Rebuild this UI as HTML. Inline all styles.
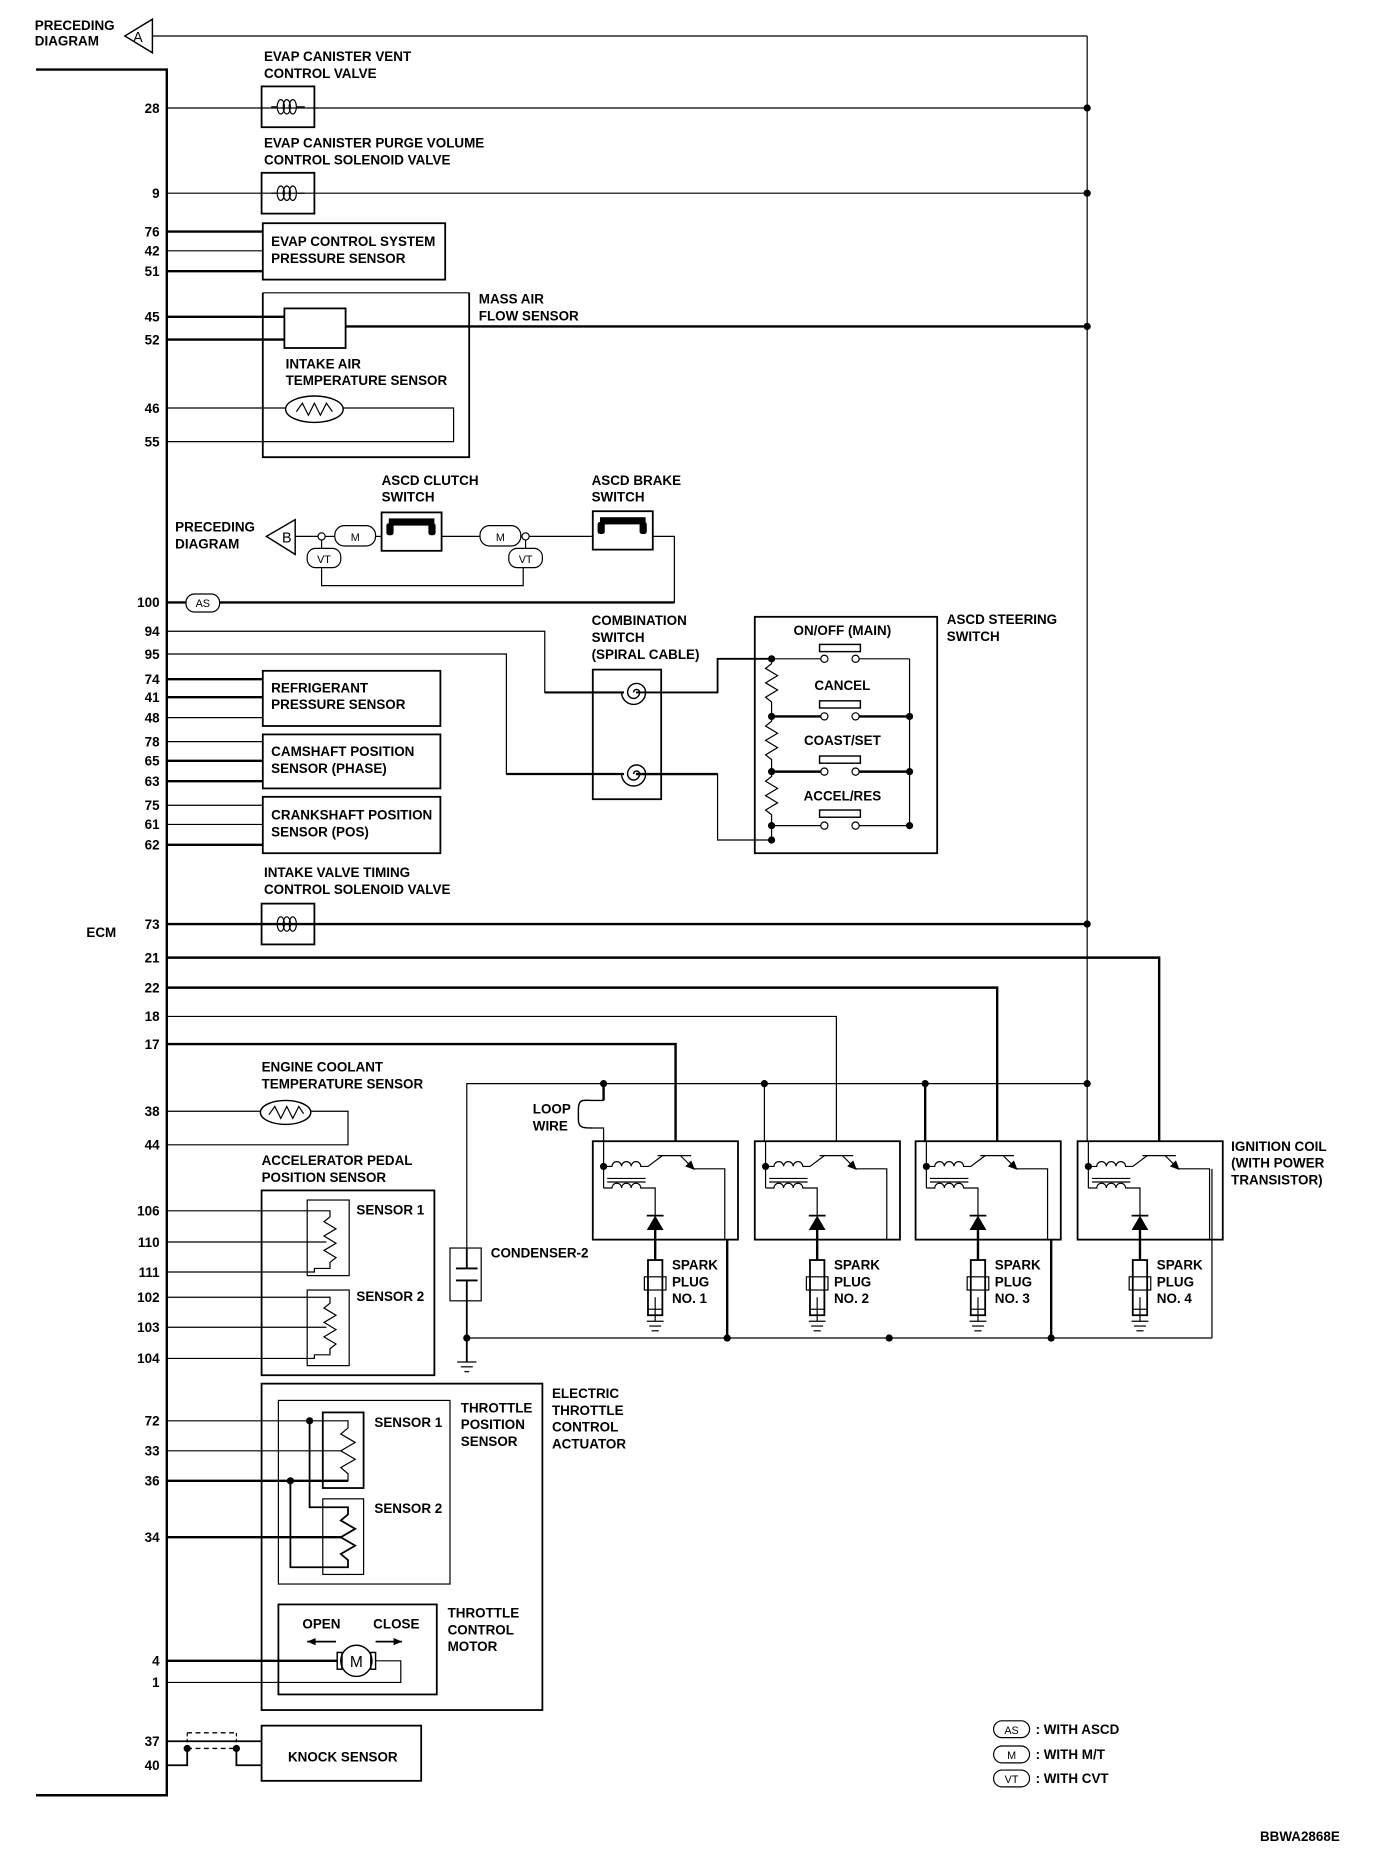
<!DOCTYPE html>
<html><head><meta charset="utf-8"><style>
html,body{margin:0;padding:0;background:#fff}
svg{display:block}
text{font-family:"Liberation Sans",sans-serif;font-size:11.2px;font-weight:bold;fill:#000}
.r{text-anchor:end}
.m{text-anchor:middle}
</style></head><body>
<svg width="1376" height="1876" viewBox="0 0 1146.7 1563.3" preserveAspectRatio="none" xmlns="http://www.w3.org/2000/svg">
<defs>
<g id="sol" fill="none" stroke="#000">
  <rect x="0" y="0" width="44" height="34" stroke-width="1.5"/>
  <path d="M8 17 H13" stroke-width="1"/>
  <ellipse cx="16" cy="17" rx="3" ry="6" stroke-width="1"/>
  <ellipse cx="21" cy="17" rx="3" ry="6" stroke-width="1"/>
  <ellipse cx="26" cy="17" rx="3" ry="6" stroke-width="1"/>
  <path d="M29 17 H36" stroke-width="1"/>
</g>
<g id="spiral" fill="none" stroke="#000" stroke-width="1.2">
  <path d="M0 0 a2.5 2.5 0 0 1 5 0 a5 5 0 0 1 -10 0 a7.5 7.5 0 0 1 15 0 a10 10 0 0 1 -20 0"/>
</g>
<g id="ign" fill="none" stroke="#000">
  <rect x="0" y="0" width="121" height="82" stroke-width="1.5"/>
  <line x1="9" y1="0" x2="9" y2="39" stroke-width="1"/>
  <circle cx="9" cy="21" r="2.5" fill="#000"/>
  <path d="M9 21 H16 a4 4 0 0 1 8 0 a4 4 0 0 1 8 0 a4 4 0 0 1 8 0 H46 L58 12" stroke-width="1"/>
  <line x1="54" y1="12" x2="82" y2="12" stroke-width="1"/>
  <path d="M73 12 L84 23 H110 V82" stroke-width="1"/>
  <line x1="12" y1="31" x2="44" y2="31" stroke-width="1"/>
  <line x1="12" y1="34" x2="44" y2="34" stroke-width="1"/>
  <path d="M9 39 H16 a4 4 0 0 1 8 0 a4 4 0 0 1 8 0 a4 4 0 0 1 8 0 H52 V62" stroke-width="1"/>
  <line x1="45" y1="62" x2="59" y2="62" stroke-width="1.5"/>
  <line x1="52" y1="74" x2="52" y2="99" stroke-width="2"/>
  <rect x="46" y="99" width="12" height="46" stroke-width="1.5"/>
  <rect x="43" y="113" width="18" height="11" stroke-width="1"/>
  <line x1="52" y1="130" x2="52" y2="150" stroke-width="1"/>
  <line x1="46" y1="140" x2="58" y2="140" stroke-width="1"/>
  <line x1="45" y1="150" x2="59" y2="150" stroke-width="1"/>
  <line x1="47" y1="154" x2="57" y2="154" stroke-width="1"/>
  <line x1="49" y1="158" x2="55" y2="158" stroke-width="1"/>
</g>
<g id="ignf" fill="#000">
  <path d="M85 24 L77 21 L82 16 Z"/>
  <path d="M52 62 L45 74 H59 Z"/>
</g>
<g id="gnd" stroke="#000" stroke-width="1">
  <line x1="-8" y1="0" x2="8" y2="0"/><line x1="-5" y1="4" x2="5" y2="4"/><line x1="-2" y1="8" x2="2" y2="8"/>
</g>
</defs>

<g fill="none" stroke="#000" stroke-width="1">
<polygon points="104,30 127,16 127,44" stroke-width="1.2"/>
<line x1="127" y1="30" x2="906" y2="30"/>
<line x1="906" y1="30" x2="906" y2="951"/>
<polyline points="30,58 139,58 139,1496 30,1496" stroke-width="2"/>

<line x1="139" y1="90" x2="906" y2="90"/>
<line x1="139" y1="161" x2="906" y2="161"/>
<rect x="219" y="186" width="152" height="47" stroke-width="1.5"/>
<line x1="139" y1="193" x2="219" y2="193" stroke-width="2"/>
<line x1="139" y1="209" x2="219" y2="209"/>
<line x1="139" y1="226" x2="219" y2="226" stroke-width="2"/>
<path d="M219 244 H391" />
<path d="M391 244 V381 H219 V244" stroke-width="1.5"/>
<rect x="237" y="257" width="51" height="33" stroke-width="1.5"/>
<line x1="139" y1="264" x2="237" y2="264" stroke-width="2"/>
<line x1="139" y1="283" x2="237" y2="283" stroke-width="2"/>
<line x1="288" y1="272" x2="906" y2="272" stroke-width="2"/>
<ellipse cx="262" cy="341" rx="24" ry="11" stroke-width="1.2"/>
<path d="M247 343 L252 336 L257 346 L262 336 L267 346 L272 336 L277 343" />
<line x1="139" y1="340" x2="238" y2="340"/>
<path d="M286 340 H378 V368 H139"/>

<polygon points="222,447 246,433 246,462" stroke-width="1.2"/>
<line x1="246" y1="447" x2="265" y2="447"/>
<circle cx="268" cy="447" r="3"/>
<line x1="271" y1="447" x2="279" y2="447"/>
<rect x="279" y="438" width="34" height="17" rx="8"/>
<line x1="313" y1="447" x2="318" y2="447"/>
<rect x="318" y="427" width="50" height="32" stroke-width="1.5"/>
<line x1="368" y1="447" x2="400" y2="447"/>
<rect x="400" y="438" width="34" height="17" rx="8"/>
<line x1="434" y1="447" x2="435" y2="447"/>
<circle cx="438" cy="447" r="3"/>
<line x1="441" y1="447" x2="494" y2="447"/>
<rect x="494" y="426" width="50" height="32" stroke-width="1.5"/>
<path d="M544 447 H562 V502 H183"/>
<line x1="562" y1="502" x2="183" y2="502" stroke-width="2"/>
<line x1="139" y1="502" x2="155" y2="502" stroke-width="2"/>
<rect x="155" y="495" width="28" height="15" rx="7"/>
<line x1="268" y1="450" x2="268" y2="457"/>
<rect x="256" y="457" width="28" height="16" rx="7"/>
<line x1="438" y1="450" x2="438" y2="457"/>
<rect x="424" y="457" width="28" height="16" rx="7"/>
<path d="M268 473 V488 H436 V473"/>

<path d="M139 526 H454 V577 H520"/>
<path d="M139 545 H422 V645 H520"/>
<line x1="454" y1="577" x2="520" y2="577" stroke-width="1.8"/>
<line x1="422" y1="645" x2="520" y2="645" stroke-width="1.8"/>
<rect x="494" y="558" width="57" height="108" stroke-width="1.5"/>
<path d="M530 577 H598 V549 H643" stroke-width="1.5"/>
<path d="M530 645 H598 V700 H643" stroke-width="1"/>
<line x1="530" y1="645" x2="598" y2="645" stroke-width="2"/>
<rect x="629" y="514" width="152" height="197" stroke-width="1.5"/>
<line x1="643" y1="549" x2="643" y2="553"/>
<path d="M643 553 l-5 4 l10 6 l-10 6 l10 6 l-10 6 l5 4 V597"/>
<path d="M643 597 V601 l-5 4 l10 6 l-10 6 l10 6 l-10 6 l5 4 V643"/>
<path d="M643 643 V647 l-5 4 l10 6 l-10 6 l10 6 l-10 6 l5 4 V700"/>
<line x1="758" y1="549" x2="758" y2="688"/>
<line x1="643" y1="549" x2="684" y2="549"/><line x1="716" y1="549" x2="758" y2="549"/>
<line x1="643" y1="597" x2="684" y2="597" stroke-width="2"/><line x1="716" y1="597" x2="758" y2="597" stroke-width="2"/>
<line x1="643" y1="643" x2="684" y2="643" stroke-width="2"/><line x1="716" y1="643" x2="758" y2="643" stroke-width="2"/>
<line x1="643" y1="688" x2="684" y2="688"/><line x1="716" y1="688" x2="758" y2="688"/>
<circle cx="687" cy="549" r="3"/><circle cx="713" cy="549" r="3"/>
<circle cx="687" cy="597" r="3"/><circle cx="713" cy="597" r="3"/>
<circle cx="687" cy="643" r="3"/><circle cx="713" cy="643" r="3"/>
<circle cx="687" cy="688" r="3"/><circle cx="713" cy="688" r="3"/>
<rect x="683" y="537" width="34" height="6" stroke-width="1.2"/>
<rect x="683" y="584" width="34" height="6" stroke-width="1.2"/>
<rect x="683" y="630" width="34" height="6" stroke-width="1.2"/>
<rect x="683" y="675" width="34" height="6" stroke-width="1.2"/>

<rect x="219" y="559" width="148" height="46" stroke-width="1.5"/>
<line x1="139" y1="566" x2="219" y2="566" stroke-width="2"/>
<line x1="139" y1="581" x2="219" y2="581" stroke-width="2"/>
<line x1="139" y1="598" x2="219" y2="598"/>
<rect x="219" y="612" width="148" height="45" stroke-width="1.5"/>
<line x1="139" y1="618" x2="219" y2="618"/>
<line x1="139" y1="634" x2="219" y2="634" stroke-width="2"/>
<line x1="139" y1="651" x2="219" y2="651" stroke-width="2"/>
<rect x="219" y="664" width="148" height="47" stroke-width="1.5"/>
<line x1="139" y1="671" x2="219" y2="671"/>
<line x1="139" y1="687" x2="219" y2="687"/>
<line x1="139" y1="704" x2="219" y2="704" stroke-width="2"/>

<line x1="139" y1="770" x2="906" y2="770" stroke-width="2"/>
<path d="M139 798 H966 V951" stroke-width="2"/>
<path d="M139 823 H831 V951" stroke-width="2"/>
<path d="M139 847 H697 V951" stroke-width="1"/>
<path d="M139 870 H563 V951" stroke-width="2"/>
<path d="M389 1040 V903 H906"/>
<line x1="503" y1="903" x2="503" y2="917" stroke-width="2"/>
<path d="M503 917 H494 C486 917 482 915 482 925 V933 C482 940 486 940 494 940" stroke-width="1.2"/>
<path d="M494 940 H503 V951"/>
<line x1="637" y1="903" x2="637" y2="951"/>
<line x1="771" y1="903" x2="771" y2="951" stroke-width="2"/>
<rect x="375" y="1040" width="26" height="44" stroke-width="1"/>
<line x1="389" y1="1040" x2="389" y2="1057" stroke-width="1.5"/>
<line x1="380" y1="1057" x2="398" y2="1057" stroke-width="1.5"/>
<line x1="380" y1="1067" x2="398" y2="1067" stroke-width="1.5"/>
<line x1="389" y1="1067" x2="389" y2="1135" stroke-width="1.5"/>
<line x1="389" y1="1115" x2="1010" y2="1115"/>
<line x1="1010" y1="1115" x2="1010" y2="974"/>
<line x1="606" y1="1033" x2="606" y2="1115" stroke-width="2"/>
<line x1="876" y1="1033" x2="876" y2="1115" stroke-width="2"/>
</g>
<use href="#gnd" x="389" y="1135"/>
<use href="#spiral" x="528" y="577"/>
<use href="#spiral" x="528" y="645"/>

<use href="#sol" x="218" y="72"/>
<use href="#sol" x="218" y="144"/>
<use href="#sol" x="218" y="753"/>
<use href="#ign" x="494" y="951"/><use href="#ignf" x="494" y="951"/>
<use href="#ign" x="629" y="951"/><use href="#ignf" x="629" y="951"/>
<use href="#ign" x="763" y="951"/><use href="#ignf" x="763" y="951"/>
<use href="#ign" x="898" y="951"/><use href="#ignf" x="898" y="951"/>

<g fill="#000">
<rect x="324" y="432" width="38" height="6"/><rect x="322" y="436" width="6" height="10" rx="2"/><rect x="357" y="436" width="6" height="10" rx="2"/>
<rect x="500" y="431" width="38" height="6"/><rect x="498" y="435" width="6" height="10" rx="2"/><rect x="533" y="435" width="6" height="10" rx="2"/>
<circle cx="906" cy="90" r="3"/><circle cx="906" cy="161" r="3"/><circle cx="906" cy="272" r="3"/><circle cx="906" cy="770" r="3"/><circle cx="906" cy="903" r="3"/>
<circle cx="503" cy="903" r="3"/><circle cx="637" cy="903" r="3"/><circle cx="771" cy="903" r="3"/>
<circle cx="389" cy="1115" r="3"/><circle cx="606" cy="1115" r="3"/><circle cx="741" cy="1115" r="3"/><circle cx="876" cy="1115" r="3"/>
<circle cx="643" cy="549" r="3"/><circle cx="643" cy="597" r="3"/><circle cx="643" cy="643" r="3"/><circle cx="643" cy="688" r="3"/><circle cx="643" cy="700" r="3"/>
<circle cx="758" cy="597" r="3"/><circle cx="758" cy="643" r="3"/><circle cx="758" cy="688" r="3"/>
<circle cx="258" cy="1184" r="3"/><circle cx="242" cy="1234" r="3"/>
<circle cx="156" cy="1457" r="3"/><circle cx="197" cy="1457" r="3"/>
</g>

<g fill="none" stroke="#000" stroke-width="1">
<ellipse cx="238" cy="927" rx="21" ry="10" stroke-width="1.2"/>
<path d="M224 929 L229 922 L234 932 L239 922 L244 932 L249 922 L253 928"/>
<line x1="139" y1="926" x2="217" y2="926"/>
<path d="M259 926 H290 V954 H139"/>
<rect x="218" y="992" width="144" height="154" stroke-width="1.5"/>
<rect x="256" y="1000" width="35" height="63"/>
<rect x="256" y="1075" width="35" height="63"/>
<path d="M139 1009 H275 V1014 l-5 4 l10 6 l-10 6 l10 6 l-10 6 l10 6 l-5 4 V1057 H262 V1060 H139"/>
<line x1="139" y1="1035" x2="272" y2="1035"/>
<path d="M139 1081 H275 V1086 l-5 4 l10 6 l-10 6 l10 6 l-10 6 l10 6 l-5 4 V1129 H262 V1132 H139"/>
<line x1="139" y1="1106" x2="272" y2="1106"/>
<rect x="218" y="1153" width="234" height="272" stroke-width="1.5"/>
<rect x="232" y="1167" width="143" height="153"/>
<rect x="269" y="1177" width="34" height="63" stroke-width="1.5"/>
<rect x="269" y="1249" width="34" height="63"/>
<path d="M139 1184 H290 V1190 l-6 5 l12 7 l-12 7 l12 7 l-12 7 l6 5 V1234 H139" />
<line x1="139" y1="1234" x2="290" y2="1234" stroke-width="2"/>
<line x1="139" y1="1209" x2="285" y2="1209"/>
<path d="M258 1184 V1256 H290 V1262 l-6 5 l12 7 l-12 7 l12 7 l-12 7 l6 5 V1306 H242 V1234" stroke-width="1.5"/>
<line x1="139" y1="1281" x2="285" y2="1281" stroke-width="2"/>
<rect x="232" y="1337" width="132" height="75" stroke-width="1.5"/>
<line x1="139" y1="1384" x2="281" y2="1384" stroke-width="2"/>
<circle cx="297" cy="1384" r="13" stroke-width="1.2"/>
<rect x="281" y="1377" width="4" height="14" stroke-width="1.2"/>
<rect x="309" y="1377" width="4" height="14" stroke-width="1.2"/>
<path d="M313 1384 H334 V1402 H139"/>
<line x1="256" y1="1368" x2="280" y2="1368" stroke-width="1.5"/>
<line x1="313" y1="1368" x2="335" y2="1368" stroke-width="1.5"/>
<rect x="218" y="1438" width="133" height="46" stroke-width="1.5"/>
<line x1="139" y1="1451" x2="218" y2="1451" stroke-width="1.5"/>
<path d="M139 1471 H156 V1457" stroke-width="1.5"/>
<path d="M197 1457 V1471 H218" stroke-width="1.5"/>
<path d="M156 1444 H197 M156 1457 H197" stroke-dasharray="4 3" stroke-width="1.2"/>
<path d="M156 1444 V1457 M197 1444 V1457" stroke-dasharray="3 2"/>
<rect x="828" y="1434" width="30" height="14" rx="7"/>
<rect x="828" y="1455" width="30" height="14" rx="7"/>
<rect x="828" y="1475" width="30" height="14" rx="7"/>
</g>
<g fill="#000">
<path d="M256 1368 l7 -3 v6 z"/><path d="M335 1368 l-7 -3 v6 z"/>
</g>

<text x="29" y="25">PRECEDING</text>
<text x="29" y="38">DIAGRAM</text>
<text x="115" y="35" class="m" style="font-size:12px;font-weight:normal">A</text>
<text x="220" y="51">EVAP CANISTER VENT</text>
<text x="220" y="65">CONTROL VALVE</text>
<text x="220" y="123">EVAP CANISTER PURGE VOLUME</text>
<text x="220" y="137">CONTROL SOLENOID VALVE</text>
<text x="226" y="205">EVAP CONTROL SYSTEM</text>
<text x="226" y="219">PRESSURE SENSOR</text>
<text x="399" y="253">MASS AIR</text>
<text x="399" y="267">FLOW SENSOR</text>
<text x="238" y="307">INTAKE AIR</text>
<text x="238" y="321">TEMPERATURE SENSOR</text>
<text x="318" y="404">ASCD CLUTCH</text>
<text x="318" y="418">SWITCH</text>
<text x="493" y="404">ASCD BRAKE</text>
<text x="493" y="418">SWITCH</text>
<text x="146" y="443">PRECEDING</text>
<text x="146" y="457">DIAGRAM</text>
<text x="239" y="452" class="m" style="font-size:12px;font-weight:normal">B</text>
<text x="296" y="451" class="m" style="font-size:9px;font-weight:normal">M</text>
<text x="417" y="451" class="m" style="font-size:9px;font-weight:normal">M</text>
<text x="270" y="469" class="m" style="font-size:9px;font-weight:normal">VT</text>
<text x="438" y="469" class="m" style="font-size:9px;font-weight:normal">VT</text>
<text x="169" y="506" class="m" style="font-size:9px;font-weight:normal">AS</text>
<text x="493" y="521">COMBINATION</text>
<text x="493" y="535">SWITCH</text>
<text x="493" y="549">(SPIRAL CABLE)</text>
<text x="789" y="520">ASCD STEERING</text>
<text x="789" y="534">SWITCH</text>
<text x="702" y="529" class="m">ON/OFF (MAIN)</text>
<text x="702" y="575" class="m">CANCEL</text>
<text x="702" y="621" class="m">COAST/SET</text>
<text x="702" y="667" class="m">ACCEL/RES</text>
<text x="226" y="577">REFRIGERANT</text>
<text x="226" y="591">PRESSURE SENSOR</text>
<text x="226" y="630">CAMSHAFT POSITION</text>
<text x="226" y="644">SENSOR (PHASE)</text>
<text x="226" y="683">CRANKSHAFT POSITION</text>
<text x="226" y="697">SENSOR (POS)</text>
<text x="220" y="731">INTAKE VALVE TIMING</text>
<text x="220" y="745">CONTROL SOLENOID VALVE</text>
<text x="72" y="781">ECM</text>
<text x="218" y="893">ENGINE COOLANT</text>
<text x="218" y="907">TEMPERATURE SENSOR</text>
<text x="444" y="928">LOOP</text>
<text x="444" y="942">WIRE</text>
<text x="1026" y="959">IGNITION COIL</text>
<text x="1026" y="973">(WITH POWER</text>
<text x="1026" y="987">TRANSISTOR)</text>
<text x="218" y="971">ACCELERATOR PEDAL</text>
<text x="218" y="985">POSITION SENSOR</text>
<text x="297" y="1012">SENSOR 1</text>
<text x="297" y="1084">SENSOR 2</text>
<text x="409" y="1048">CONDENSER-2</text>
<text x="560" y="1058">SPARK</text><text x="560" y="1072">PLUG</text><text x="560" y="1086">NO. 1</text>
<text x="695" y="1058">SPARK</text><text x="695" y="1072">PLUG</text><text x="695" y="1086">NO. 2</text>
<text x="829" y="1058">SPARK</text><text x="829" y="1072">PLUG</text><text x="829" y="1086">NO. 3</text>
<text x="964" y="1058">SPARK</text><text x="964" y="1072">PLUG</text><text x="964" y="1086">NO. 4</text>
<text x="460" y="1165">ELECTRIC</text>
<text x="460" y="1179">THROTTLE</text>
<text x="460" y="1193">CONTROL</text>
<text x="460" y="1207">ACTUATOR</text>
<text x="384" y="1177">THROTTLE</text>
<text x="384" y="1191">POSITION</text>
<text x="384" y="1205">SENSOR</text>
<text x="312" y="1189">SENSOR 1</text>
<text x="312" y="1261">SENSOR 2</text>
<text x="373" y="1348">THROTTLE</text>
<text x="373" y="1362">CONTROL</text>
<text x="373" y="1376">MOTOR</text>
<text x="252" y="1357">OPEN</text>
<text x="311" y="1357">CLOSE</text>
<text x="297" y="1389" class="m" style="font-size:13px;font-weight:normal">M</text>
<text x="240" y="1468">KNOCK SENSOR</text>
<text x="843" y="1445" class="m" style="font-size:9px;font-weight:normal">AS</text>
<text x="843" y="1466" class="m" style="font-size:9px;font-weight:normal">M</text>
<text x="843" y="1486" class="m" style="font-size:9px;font-weight:normal">VT</text>
<text x="863" y="1445">: WITH ASCD</text>
<text x="863" y="1466">: WITH M/T</text>
<text x="863" y="1486">: WITH CVT</text>
<text x="1050" y="1534">BBWA2868E</text>

<text x="133" y="94" class="r">28</text>
<text x="133" y="165" class="r">9</text>
<text x="133" y="197" class="r">76</text>
<text x="133" y="213" class="r">42</text>
<text x="133" y="230" class="r">51</text>
<text x="133" y="268" class="r">45</text>
<text x="133" y="287" class="r">52</text>
<text x="133" y="344" class="r">46</text>
<text x="133" y="372" class="r">55</text>
<text x="133" y="506" class="r">100</text>
<text x="133" y="530" class="r">94</text>
<text x="133" y="549" class="r">95</text>
<text x="133" y="570" class="r">74</text>
<text x="133" y="585" class="r">41</text>
<text x="133" y="602" class="r">48</text>
<text x="133" y="622" class="r">78</text>
<text x="133" y="638" class="r">65</text>
<text x="133" y="655" class="r">63</text>
<text x="133" y="675" class="r">75</text>
<text x="133" y="691" class="r">61</text>
<text x="133" y="708" class="r">62</text>
<text x="133" y="774" class="r">73</text>
<text x="133" y="802" class="r">21</text>
<text x="133" y="827" class="r">22</text>
<text x="133" y="851" class="r">18</text>
<text x="133" y="874" class="r">17</text>
<text x="133" y="930" class="r">38</text>
<text x="133" y="958" class="r">44</text>
<text x="133" y="1013" class="r">106</text>
<text x="133" y="1039" class="r">110</text>
<text x="133" y="1064" class="r">111</text>
<text x="133" y="1085" class="r">102</text>
<text x="133" y="1110" class="r">103</text>
<text x="133" y="1136" class="r">104</text>
<text x="133" y="1188" class="r">72</text>
<text x="133" y="1213" class="r">33</text>
<text x="133" y="1238" class="r">36</text>
<text x="133" y="1285" class="r">34</text>
<text x="133" y="1388" class="r">4</text>
<text x="133" y="1406" class="r">1</text>
<text x="133" y="1455" class="r">37</text>
<text x="133" y="1475" class="r">40</text>
</svg>
</body></html>
